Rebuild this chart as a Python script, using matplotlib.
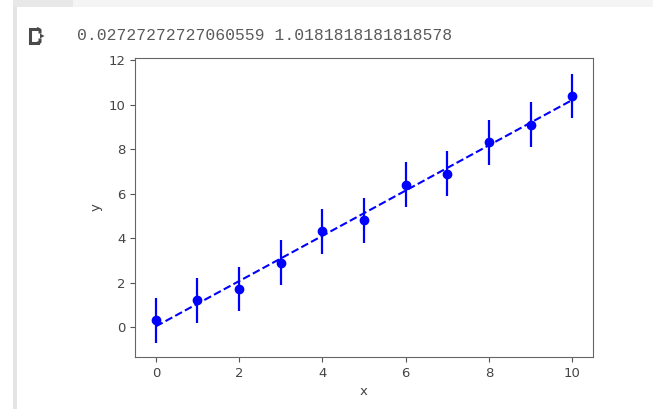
import numpy as np
import matplotlib.pyplot as plt
from matplotlib.patches import Rectangle, Polygon
from matplotlib.lines import Line2D

# measurements with unit uncertainty
x = np.arange(11)
y = [0.3, 1.2, 1.7, 2.9, 4.3, 4.8, 6.4, 6.9, 8.3, 9.1, 10.4]
yerr = [1, 1, 1, 1, 1, 1, 1, 1, 1, 1, 1]

# fitted straight line (intercept, slope) as printed by the fit
b = 0.02727272727060559
a = 1.0181818181818578

W, H = 654, 409
fig = plt.figure(figsize=(W / 100, H / 100), dpi=100)
fig.patch.set_facecolor('white')


def fx(px):
    return px / W


def fy(py):
    return 1 - py / H


# notebook cell frame
fig.patches.append(Rectangle((fx(13), 0), 4 / W, 1, transform=fig.transFigure,
                             facecolor='#e4e4e4', edgecolor='none'))
fig.patches.append(Rectangle((fx(13), fy(7)), 60 / W, 7 / H, transform=fig.transFigure,
                             facecolor='#e8e8e8', edgecolor='none'))
fig.patches.append(Rectangle((fx(73), fy(7)), 580 / W, 7 / H, transform=fig.transFigure,
                             facecolor='#f4f4f4', edgecolor='none'))

# output icon
icon = '#4a4a4a'
fig.add_artist(Line2D([fx(38), fx(30), fx(30), fx(38)], [fy(29), fy(29), fy(43), fy(43)],
                      transform=fig.transFigure, color=icon, lw=2.2, solid_joinstyle='miter'))
fig.add_artist(Line2D([fx(38), fx(40), fx(40)], [fy(29), fy(30), fy(32)],
                      transform=fig.transFigure, color=icon, lw=2.2))
fig.add_artist(Line2D([fx(38), fx(40), fx(40)], [fy(43), fy(42), fy(40)],
                      transform=fig.transFigure, color=icon, lw=2.2))
fig.patches.append(Polygon([(fx(40), fy(33.5)), (fx(40), fy(38.5)), (fx(44.5), fy(36))],
                           closed=True, transform=fig.transFigure,
                           facecolor=icon, edgecolor='none'))

fig.text(fx(77), fy(35), f"{b} {a}", family='Liberation Mono', fontsize=11.8,
         color='#5a5a5a', va='center', ha='left')

ax = fig.add_axes([fx(135), fy(357), (593 - 135) / W, (357 - 58) / H])
ax.errorbar(x, y, yerr=yerr, fmt='bo', elinewidth=1.6, markersize=6)
ax.plot(x, b + a * x, 'b--', lw=1.5)

ax.set_xlim(-0.5, 10.5)
ax.set_ylim(-1.35, 12.1)
ax.set_yticks([0, 2, 4, 6, 8, 10, 12])
ax.set_xticks([0, 2, 4, 6, 8, 10])
ax.set_xlabel('x', color='#444', fontsize=9.5)
ax.set_ylabel('y', color='#444', fontsize=9.5)
ax.tick_params(colors='#555', labelcolor='#444', labelsize=9.5)
for s in ax.spines.values():
    s.set_color('#666')

fig.savefig('out.png', dpi=100)
